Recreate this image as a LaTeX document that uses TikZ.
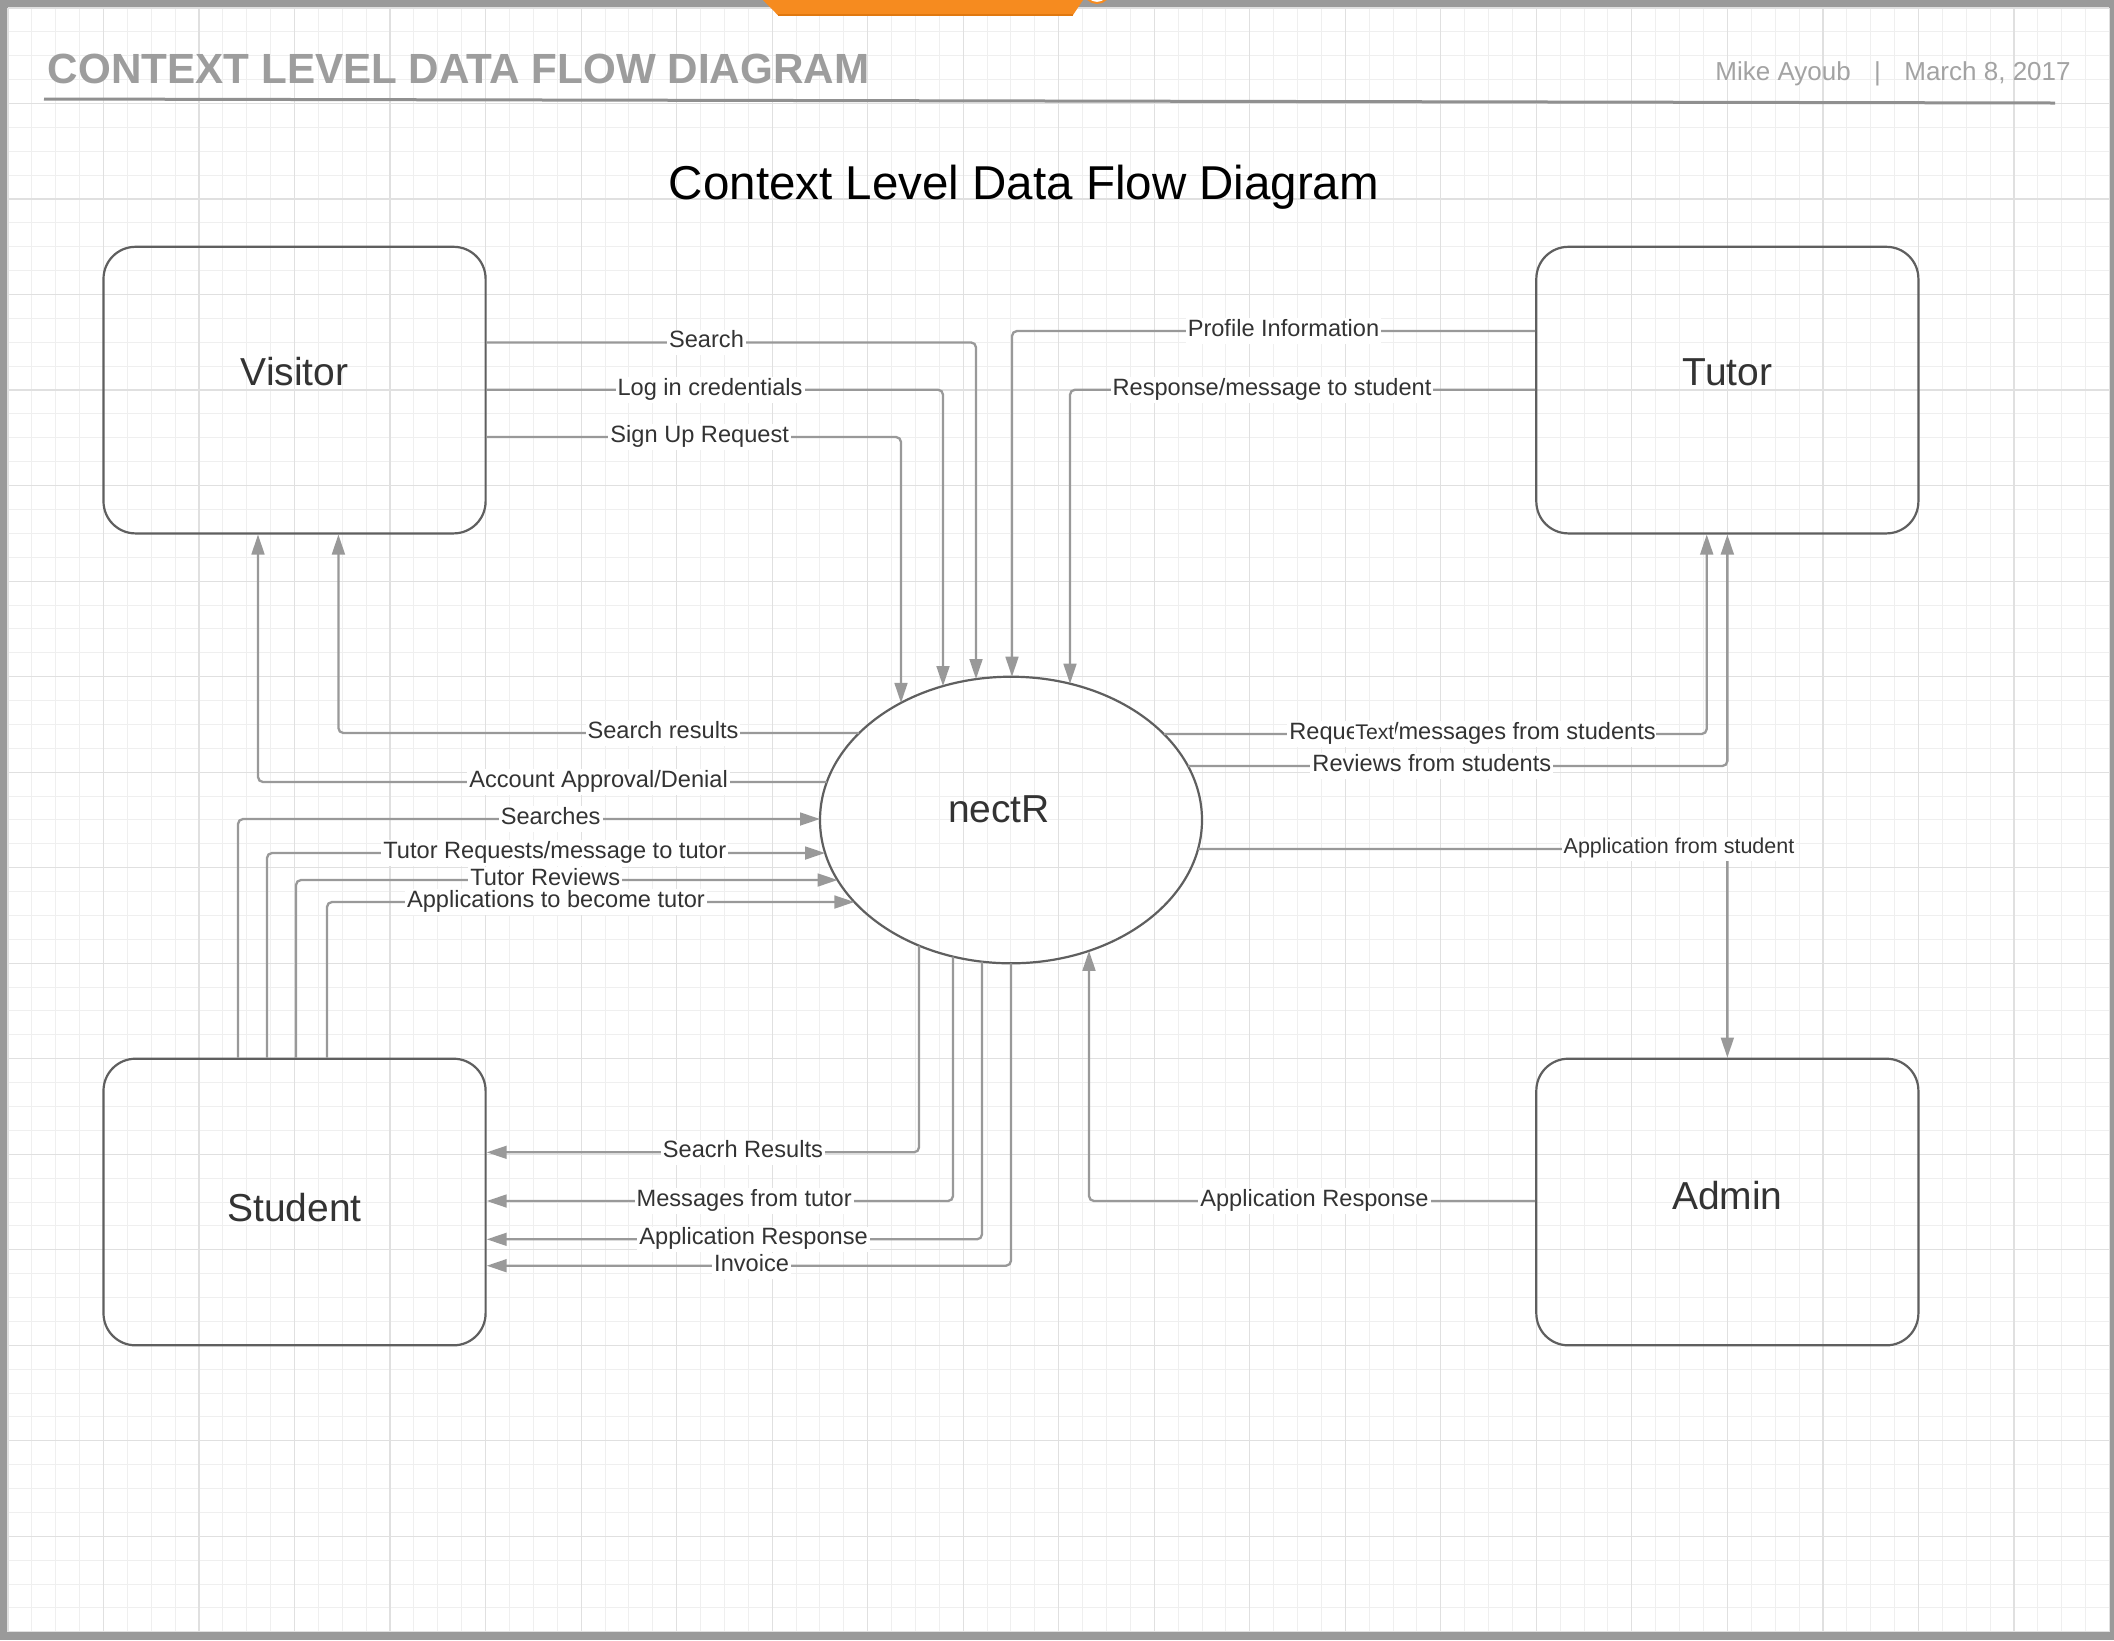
\documentclass[tikz,border=0pt]{standalone}
\usepackage{fontspec}
\setmainfont{Liberation Sans}
\usetikzlibrary{shapes.geometric,arrows.meta}
\definecolor{bordergray}{HTML}{9A9A9A}
\definecolor{boxgray}{HTML}{5F5F5F}
\definecolor{conngray}{HTML}{999999}
\definecolor{txtgray}{HTML}{333333}
\definecolor{headgray}{HTML}{9D9D9D}
\definecolor{dategray}{HTML}{A3A3A3}
\definecolor{linegray}{HTML}{909090}
\definecolor{gridminor}{HTML}{EFEFEF}
\definecolor{gridmajor}{HTML}{E0E0E0}
\definecolor{tabor}{HTML}{F68B1F}
\definecolor{tabdark}{HTML}{E0780F}
\begin{document}
\begin{tikzpicture}[x=0.5pt,y=-0.5pt,
  box/.style={draw=boxgray, line width=1.1pt, rounded corners=16pt, minimum width=191.05pt, minimum height=143.3pt, inner sep=0pt},
  boxtext/.style={font=\fontsize{19.5}{20}\selectfont, text=txtgray, inner sep=0pt},
  conn/.style={draw=conngray, line width=1.15pt, rounded corners=2.5pt},
  arr/.style={-{Triangle[length=10pt,width=6.4pt]}, conngray},
  lbl/.style={fill=white, text=txtgray, font=\fontsize{11.8}{12}\selectfont, inner xsep=1pt, inner ysep=0.6pt, text height=8.5pt, text depth=3.1pt},
  slbl/.style={fill=white, text=txtgray, font=\fontsize{10.75}{11}\selectfont, inner xsep=1pt, inner ysep=0.6pt, text height=7.7pt, text depth=2.8pt},
]
\useasboundingbox (0,0) rectangle (2114,1640);
% page and border
\fill[bordergray] (0,0) rectangle (2114,1640);
\fill[white] (8,8) rectangle (2109.4,1631.8);
% grid
\foreach \i in {0,...,88} {\draw[gridminor, line width=0.5pt] ({8+\i*23.88},8) -- ({8+\i*23.88},1631.8);}
\foreach \j in {0,...,68} {\draw[gridminor, line width=0.5pt] (8,{8+\j*23.88}) -- (2109.4,{8+\j*23.88});}
\foreach \i in {0,4,...,88} {\draw[gridmajor, line width=0.6pt] ({8+\i*23.88},8) -- ({8+\i*23.88},1631.8);}
\foreach \j in {0,4,...,68} {\draw[gridmajor, line width=0.6pt] (8,{8+\j*23.88}) -- (2109.4,{8+\j*23.88});}
% orange tab at top
\fill[tabor] (763,0) -- (1083,0) -- (1073,15) -- (777.7,15) -- cycle;
\draw[tabdark, line width=1pt] (777.7,15) -- (1073,15);
\draw[tabor, fill=white, line width=1pt] (1097,-10) circle (13);
% header
\node[anchor=base west, font=\bfseries\fontsize{21.1}{22}\selectfont, text=headgray, inner sep=0pt] (hdr) at (47.5,83) {CONTEXT LEVEL DATA FLOW DIAGRAM};
\node[anchor=base east, font=\fontsize{13}{14}\selectfont, text=dategray, inner sep=0pt] (author) at (2071,80) {Mike Ayoub\hspace{0.9em}|\hspace{0.9em}March 8, 2017};
\draw[linegray, line width=1.5pt] (44,99) -- (2055,103);
\node[anchor=base, font=\fontsize{23.75}{25}\selectfont, text=black, inner sep=0pt] (title) at (1024,199) {Context Level Data Flow Diagram};
% boxes
\node[box] (visitor) at (294.55,390.1) {};
\node[box] (tutor) at (1727.35,390.1) {};
\node[box] (student) at (294.55,1202) {};
\node[box] (admin) at (1727.35,1202) {};
\node[draw=boxgray, line width=1.1pt, ellipse, minimum width=191pt, minimum height=143.3pt, inner sep=0pt] (nectR) at (1011,820) {};
\node[boxtext] (visitorT) at (294.6,372) {Visitor};
\node[boxtext] (tutorT) at (1727.4,372) {Tutor};
\node[boxtext] (studentT) at (294.6,1208) {Student};
\node[boxtext] (adminT) at (1727.4,1196) {Admin};
\node[boxtext] (nectRT) at (999,809) {nectR};
% ellipse contact points
\coordinate (eSearch) at (976,679.1);
\coordinate (eLogin) at (943,686.1);
\coordinate (eSignup) at (901,702.9);
\coordinate (eProfile) at (1012,676.7);
\coordinate (eResp) at (1070,683.7);
\coordinate (eSres) at (859.2,733);
\coordinate (eAcc) at (826.8,782);
\coordinate (eSearches) at (820,819);
\coordinate (eTreq) at (825.1,853);
\coordinate (eTrev) at (837.6,880);
\coordinate (eApps) at (854.4,902);
\coordinate (eReq) at (1163.8,734);
\coordinate (eRev) at (1187.9,766);
\coordinate (eAppS) at (1198,849);
\coordinate (eSr) at (919,945.6);
\coordinate (eMsg) at (953,956.5);
\coordinate (eAR) at (982,961.6);
\coordinate (eInv) at (1011,963.3);
\coordinate (eAdm) at (1089,950.8);
% connectors visitor -> nectR
\draw[conn, arr] (visitor.east |- 0,342.4) -| (eSearch);
\draw[conn, arr] (visitor.east |- 0,389.7) -| (eLogin);
\draw[conn, arr] (visitor.east |- 0,437) -| (eSignup);
\node[lbl] (lSearch) at (706.5,342.4) {Search};
\node[lbl] (lLogin) at (710,389.7) {Log in credentials};
\node[lbl] (lSignup) at (699.7,437) {Sign Up Request};
% tutor -> nectR
\draw[conn, arr] (tutor.west |- 0,331) -| (eProfile);
\draw[conn, arr] (tutor.west |- 0,389.7) -| (eResp);
\node[lbl] (lProfile) at (1283.5,331) {Profile Information};
\node[lbl] (lResp) at (1272,389.7) {Response/message to student};
% nectR -> visitor
\draw[conn, arr] (eSres) -| (visitor.south -| 338.4,0);
\draw[conn, arr] (eAcc) -| (visitor.south -| 258,0);
\node[lbl] (lSres) at (663,733) {Search results};
\node[lbl] (lAcc) at (598.6,782) {Account Approval/Denial};
% student -> nectR
\draw[conn, arr] (student.north -| 238,0) |- (eSearches);
\draw[conn, arr] (student.north -| 267,0) |- (eTreq);
\draw[conn, arr] (student.north -| 296,0) |- (eTrev);
\draw[conn, arr] (student.north -| 327,0) |- (eApps);
\node[lbl] (lSearches) at (550.7,819) {Searches};
\node[lbl] (lTreq) at (554.8,853) {Tutor Requests/message to tutor};
\node[lbl] (lTrev) at (545.3,880) {Tutor Reviews};
\node[lbl] (lApps) at (556,902) {Applications to become tutor};
% nectR -> tutor
\draw[conn, arr] (eReq) -| (tutor.south -| 1706.7,0);
\draw[conn, arr] (eRev) -| (tutor.south);
\node[lbl, anchor=west] (lReqA) at (1287,734) {Reque};
\node[lbl, anchor=west, inner xsep=0.3pt] (lReqB) at (1391,734) {/messages from students};
\node[lbl, anchor=west, font=\fontsize{10.6}{11}\selectfont, inner xsep=0.5pt] (lText) at (1354,734) {Text};
\node[lbl] (lRev) at (1431.8,766) {Reviews from students};
% nectR -> admin
\draw[conn, arr] (eAppS) -| (admin.north);
\node[slbl] (lAppS) at (1679,849) {Application from student};
% nectR -> student
\draw[conn, arr] (eSr) |- (student.east |- 0,1152.3);
\draw[conn, arr] (eMsg) |- (student.east |- 0,1201);
\draw[conn, arr] (eAR) |- (student.east |- 0,1239.3);
\draw[conn, arr] (eInv) |- (student.east |- 0,1265.7);
\node[lbl] (lSr) at (742.9,1152.3) {Seacrh Results};
\node[lbl] (lMsg) at (744.2,1201) {Messages from tutor};
\node[lbl] (lAR) at (753.6,1239.3) {Application Response};
\node[lbl] (lInv) at (751.6,1265.7) {Invoice};
% admin -> nectR
\draw[conn, arr] (admin.west |- 0,1201) -| (eAdm);
\node[lbl] (lAdm) at (1314.5,1201) {Application Response};
\end{tikzpicture}
\end{document}
